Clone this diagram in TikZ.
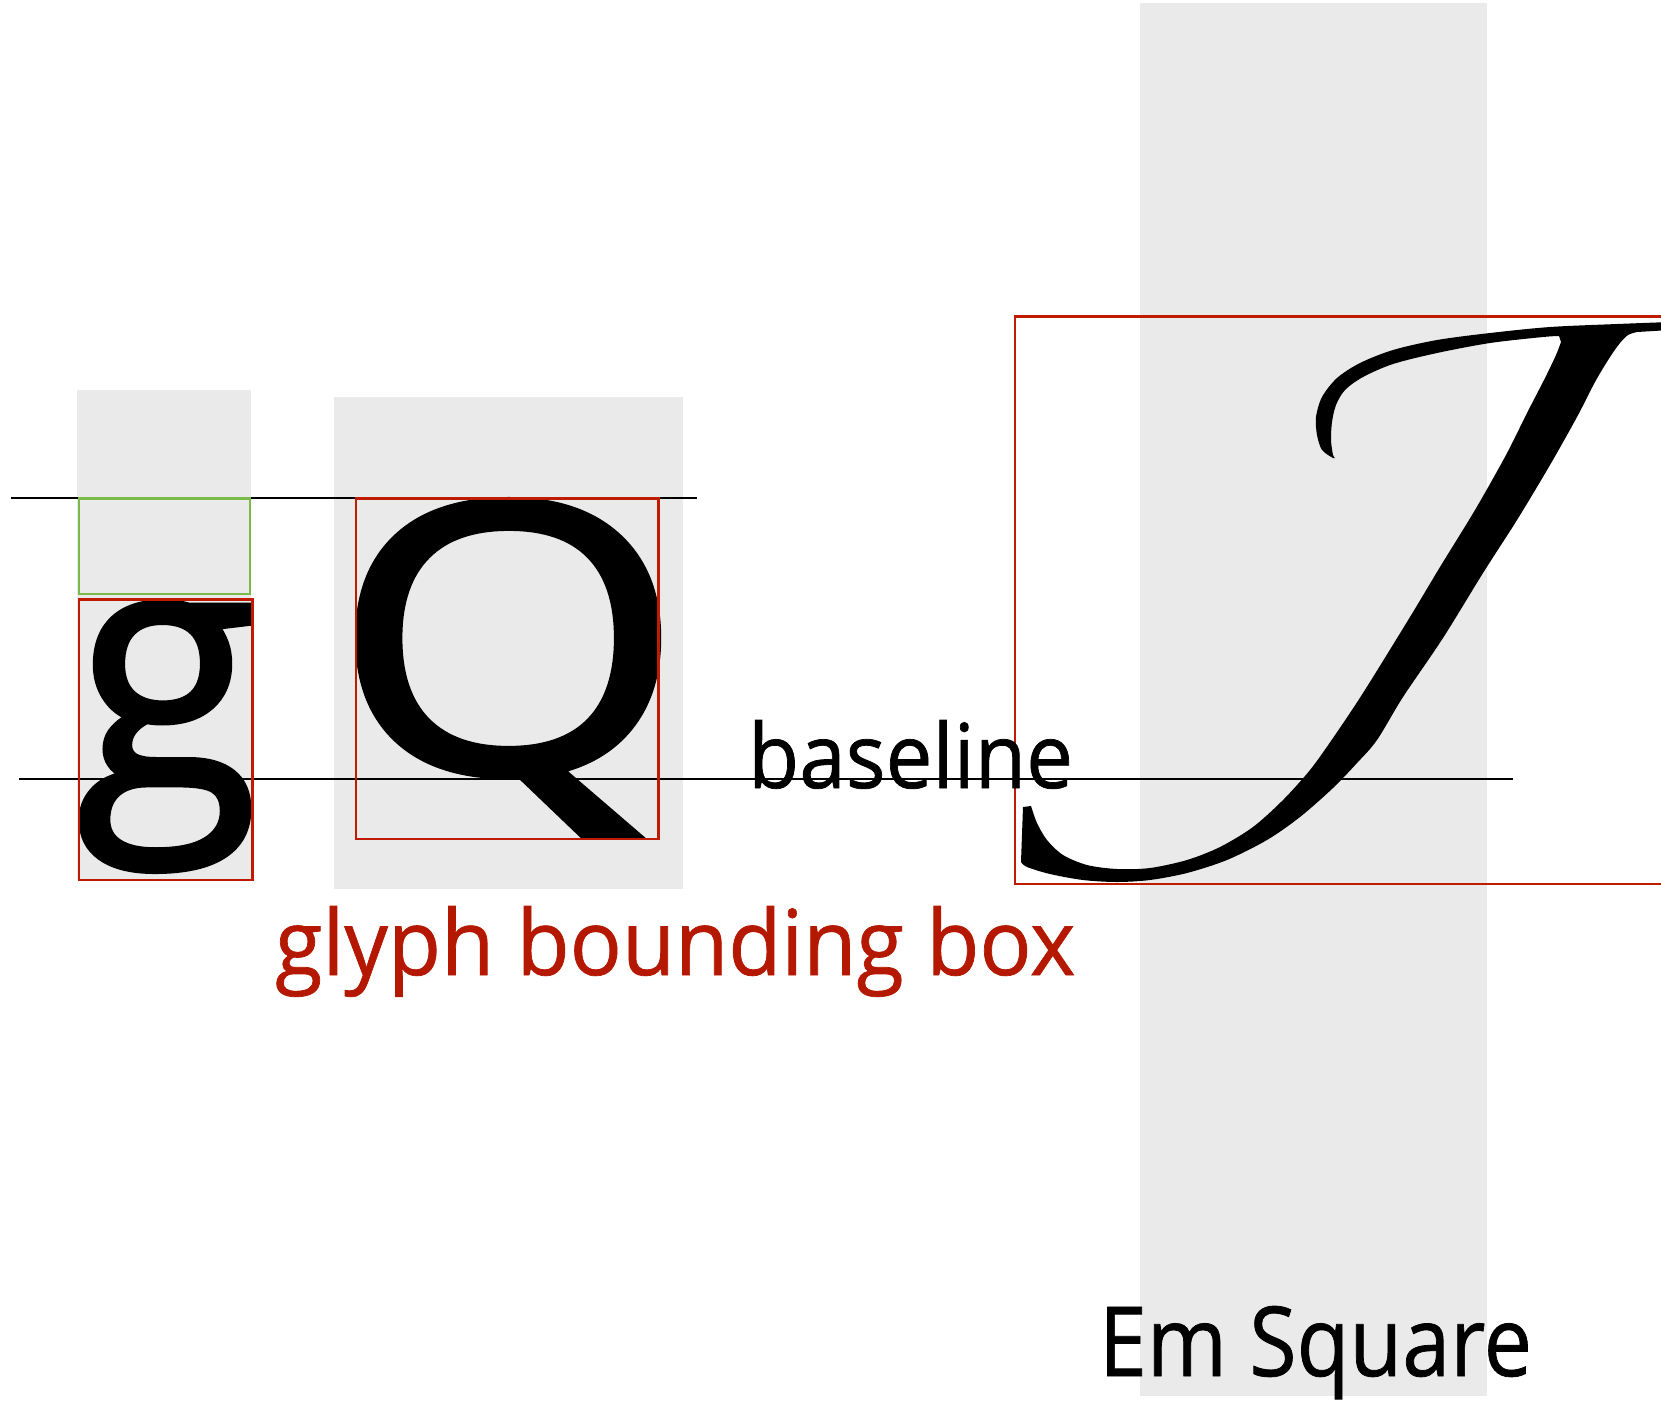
\documentclass[tikz,border=0pt]{standalone}
\usepackage{fontspec}
\usepackage{graphicx}
\newfontfamily\gill[FakeBold=0.8]{Open Sans}
\newfontfamily\gillbig[FakeBold=1.6]{Open Sans}
\definecolor{boxred}{RGB}{192,26,0}
\definecolor{txtred}{RGB}{180,24,0}
\definecolor{boxgreen}{RGB}{122,186,72}
\definecolor{emgray}{RGB}{234,234,234}
\tikzset{
  lbl/.style={inner sep=0pt, outer sep=0pt, font=\gill, anchor=base west},
  glyphtxt/.style={inner sep=0pt, outer sep=0pt, font=\gillbig, anchor=north west},
  guide/.style={draw=black, line width=1pt},
  redbox/.style={draw=boxred, line width=1.3pt},
  greenbox/.style={draw=boxgreen, line width=1.3pt},
  graybg/.style={fill=emgray},
}
\begin{document}
\begin{tikzpicture}[x=0.5pt,y=-0.5pt]
\useasboundingbox (0,0) rectangle (1661,1404);
\clip (0,0) rectangle (1661,1404);
% grey advance / em areas
\fill[graybg] (1139.5,3) rectangle (1486.5,1396);
\fill[graybg] (77,390) rectangle (251,880);
\fill[graybg] (334,397) rectangle (683,889);
% glyphs g and Q
\node[glyphtxt] (g) at (75,602) {\resizebox*{92pt}{134.5pt}{g}};
\node[glyphtxt] (Q) at (331,500) {\resizebox*{177pt}{168pt}{Q}};
% swash J
\fill[black]
  plot[smooth,tension=0.5] coordinates {(1333,458) (1322,450) (1317,435) (1316,417) (1322,397) (1337,378) (1360,363) (1393,350) (1437,340) (1490,333) (1550,327) (1617,324) (1670,322)}
  -- (1670,330)
  -- plot[smooth,tension=0.5] coordinates {(1637,332) (1628,335) (1620,343) (1610,357) (1595,382) (1577,417) (1550,465) (1517,520) (1483,573) (1443,638) (1403,697) (1377,740) (1357,763) (1333,788) (1300,817) (1267,840) (1227,860) (1187,873) (1150,880) (1117,882) (1083,880) (1050,874) (1027,867) (1021,862)}
  -- (1023,807)
  -- plot[smooth,tension=0.5] coordinates {(1031,806) (1037,823) (1047,840) (1063,855) (1087,865) (1117,869) (1150,868) (1187,860) (1220,847) (1253,827) (1283,800) (1310,770) (1333,738) (1363,693) (1410,617) (1440,567) (1475,510) (1506,455) (1527,413) (1545,378) (1556,355) (1561,342)}
  -- plot[smooth,tension=0.5] coordinates {(1559,336) (1543,337) (1490,343) (1437,353) (1393,364) (1363,377) (1345,390) (1336,405) (1332,422) (1331,440) (1333,455) (1335,458)}
  -- cycle;
% guide lines
\draw[guide] (11,498) -- (697,498);
\draw[guide] (19,778.6) -- (1513,778.6);
% bounding boxes
\draw[greenbox] (79,498.5) rectangle (250,594);
\draw[redbox] (79,599.5) rectangle (252.5,880);
\draw[redbox] (356,498.5) rectangle (658.5,839);
\draw[redbox] (1015,316.5) rectangle (1690,884);
% labels
\node[lbl] (bl) at (748,788) {\resizebox{162.5pt}{34pt}{baseline}};
\node[lbl, text=txtred] (gbb) at (275,975) {\resizebox{400pt}{34.5pt}{glyph bounding box}};
\node[lbl] (em) at (1099,1376) {\resizebox{216.5pt}{35pt}{Em Square}};
\end{tikzpicture}
\end{document}
